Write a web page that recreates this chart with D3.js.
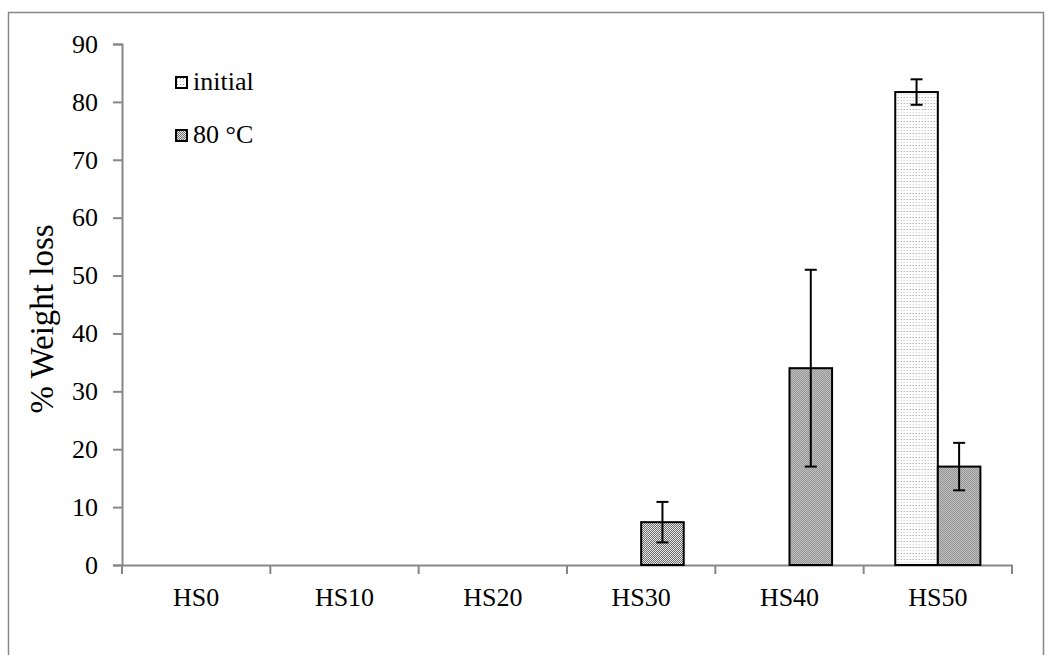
<!DOCTYPE html>
<html>
<head>
<meta charset="utf-8">
<script src="https://cdn.jsdelivr.net/npm/d3@7"></script>
<style>
  html, body { margin: 0; padding: 0; background: #fff; }
  svg { display: block; }
  svg text { font-family: "Liberation Serif", "Times New Roman", serif; }
</style>
</head>
<body>
<svg id="chart" width="1046" height="655"></svg>
<script>
// Sample groups along the x axis
const categories = ["HS0", "HS10", "HS20", "HS30", "HS40", "HS50"];
// Series names (legend order)
const seriesNames = ["initial", "80 °C"];
// % weight loss per sample
const initialValues = [0, 0, 0, 0, 0, 81.7];
const heatedValues = [0, 0, 0, 7.4, 34.0, 17.0];
// Error bar half-lengths
const initialErrors = [0, 0, 0, 0, 0, 2.2];
const heatedErrors = [0, 0, 0, 3.5, 17.0, 4.1];
// Y axis ticks
const yTicks = [0, 10, 20, 30, 40, 50, 60, 70, 80, 90];

const serif = "'Liberation Serif', 'Times New Roman', serif";
const svg = d3.select("#chart");
const axisColor = "#878787";

// Texture fills for the two series
const defs = svg.append("defs");
const dots = defs.append("pattern")
  .attr("id", "fill-initial").attr("patternUnits", "userSpaceOnUse")
  .attr("width", 6).attr("height", 6);
dots.append("rect").attr("width", 6).attr("height", 6).attr("fill", "#fff");
[[1, 1, "#8a8a8a"], [4, 1, "#8a8a8a"], [1, 4, "#c8c8c8"], [4, 4, "#c8c8c8"]].forEach(([x, y, c]) =>
  dots.append("rect").attr("x", x).attr("y", y).attr("width", 1).attr("height", 1).attr("fill", c));

const checks = defs.append("pattern")
  .attr("id", "fill-heated").attr("patternUnits", "userSpaceOnUse")
  .attr("width", 2).attr("height", 2);
checks.append("rect").attr("width", 2).attr("height", 2).attr("fill", "#e6e6e6");
checks.append("rect").attr("x", 0).attr("y", 0).attr("width", 1).attr("height", 1).attr("fill", "#6e6e6e");
checks.append("rect").attr("x", 1).attr("y", 1).attr("width", 1).attr("height", 1).attr("fill", "#6e6e6e");

const fills = { "initial": "url(#fill-initial)", "80 °C": "url(#fill-heated)" };

// Outer frame
svg.append("rect")
  .attr("x", 8.5).attr("y", 12.5).attr("width", 1035).attr("height", 700)
  .attr("fill", "none").attr("stroke", axisColor).attr("stroke-width", 1.5);

// Scales
const x = d3.scaleBand().domain(categories).range([122, 1012]).padding(0);
const inner = d3.scaleBand().domain(seriesNames)
  .range([x.bandwidth() * 0.213, x.bandwidth() * 0.787]).padding(0);
const y = d3.scaleLinear().domain([0, 90]).range([565, 44]);

// Y axis
const yAxis = svg.append("g").attr("transform", "translate(122,0)")
  .call(d3.axisLeft(y).tickValues(yTicks).tickSize(9).tickPadding(15).tickFormat(d3.format("d")));
yAxis.attr("font-family", serif).attr("font-size", 26);
yAxis.select(".domain").attr("stroke", axisColor).attr("stroke-width", 2);
yAxis.selectAll(".tick line").attr("stroke", axisColor).attr("stroke-width", 2);
yAxis.selectAll(".tick text").attr("fill", "#000")
  .style("font-family", serif).style("font-size", "26px");

// X axis: baseline with ticks between groups
const xAxis = svg.append("g").attr("transform", `translate(0,${y(0)})`)
  .call(d3.axisBottom(x).tickSize(0).tickPadding(23));
xAxis.attr("font-family", serif).attr("font-size", 26);
xAxis.select(".domain").attr("stroke", axisColor).attr("stroke-width", 2);
xAxis.selectAll(".tick text").attr("fill", "#000")
  .style("font-family", serif).style("font-size", "26px");
const edges = categories.map(c => x(c)).concat([x(categories[categories.length - 1]) + x.bandwidth()]);
xAxis.selectAll(".edge").data(edges).join("line")
  .attr("class", "edge")
  .attr("x1", d => d).attr("x2", d => d).attr("y1", 0).attr("y2", 9)
  .attr("stroke", axisColor).attr("stroke-width", 2);

// Bars
const rows = categories.map((c, i) => ({
  cat: c,
  items: [
    { name: "initial", value: initialValues[i], err: initialErrors[i] },
    { name: "80 °C", value: heatedValues[i], err: heatedErrors[i] }
  ]
}));

const groups = svg.append("g").selectAll("g").data(rows).join("g")
  .attr("transform", d => `translate(${x(d.cat)},0)`);

groups.selectAll("rect").data(d => d.items.filter(e => e.value > 0)).join("rect")
  .attr("x", d => inner(d.name))
  .attr("y", d => y(d.value))
  .attr("width", inner.bandwidth())
  .attr("height", d => y(0) - y(d.value))
  .attr("fill", d => fills[d.name])
  .attr("stroke", "#000").attr("stroke-width", 2);

// Error bars
const eb = groups.selectAll("g.err").data(d => d.items.filter(e => e.err > 0)).join("g")
  .attr("class", "err")
  .attr("transform", d => `translate(${inner(d.name) + inner.bandwidth() / 2},0)`);
eb.append("line")
  .attr("y1", d => y(d.value + d.err)).attr("y2", d => y(d.value - d.err))
  .attr("stroke", "#000").attr("stroke-width", 2);
eb.append("line")
  .attr("x1", -6).attr("x2", 6)
  .attr("y1", d => y(d.value + d.err)).attr("y2", d => y(d.value + d.err))
  .attr("stroke", "#000").attr("stroke-width", 2);
eb.append("line")
  .attr("x1", -6).attr("x2", 6)
  .attr("y1", d => y(d.value - d.err)).attr("y2", d => y(d.value - d.err))
  .attr("stroke", "#000").attr("stroke-width", 2);

// Legend
const legend = svg.append("g").selectAll("g").data(seriesNames).join("g")
  .attr("transform", (d, i) => `translate(176,${77 + i * 53})`);
legend.append("rect")
  .attr("width", 11).attr("height", 11)
  .attr("fill", d => fills[d]).attr("stroke", "#000").attr("stroke-width", 2);
legend.append("text")
  .attr("x", 17).attr("y", 13)
  .style("font-family", serif).style("font-size", "26px").attr("fill", "#000")
  .text(d => d);

// Y axis title
svg.append("text")
  .attr("transform", "translate(53,319) rotate(-90)")
  .attr("text-anchor", "middle")
  .style("font-family", serif).style("font-size", "33px").attr("fill", "#000")
  .text("% Weight loss");
</script>
</body>
</html>
